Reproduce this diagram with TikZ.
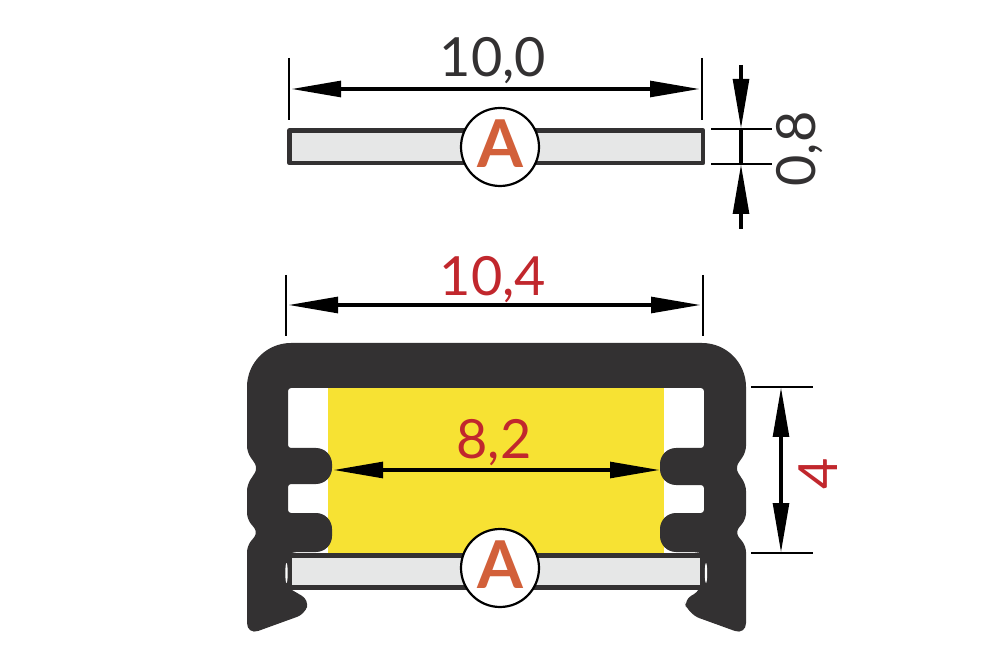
\documentclass[tikz,border=0pt]{standalone}
\usepackage{fontspec}
\setmainfont{Lato}
\usetikzlibrary{arrows.meta}
\definecolor{prof}{HTML}{333132}
\definecolor{ledy}{HTML}{F7E233}
\definecolor{lens}{HTML}{E6E7E7}
\definecolor{dimred}{HTML}{C1272D}
\definecolor{letter}{HTML}{D2603A}
\tikzset{
  dimtip/.tip={Triangle[length=25pt,width=7.8pt]},
  dimline/.style={line width=2pt,black,{dimtip}-{dimtip}},
  oneline/.style={line width=2pt,black},
  extline/.style={line width=1.3pt,black},
  dimlabel/.style={font=\fontsize{27}{30}\selectfont,inner sep=0pt,anchor=center},
  badge/.style={circle,draw=black,line width=1.1pt,fill=white,minimum size=39pt,inner sep=0pt,text=letter,font=\fontsize{33}{35}\selectfont\bfseries},
}
\begin{document}
\begin{tikzpicture}[x=0.5pt,y=-0.5pt]
\useasboundingbox (0,0) rectangle (1000,667);
\fill[white] (0,0) rectangle (1000,667);
% LED strip
\fill[ledy] (328,388) rectangle (664,553);
% profile
\fill[prof] (292,590)
  [rounded corners=4pt] -- (309,600) -- (305,614)
  [rounded corners=6pt] -- (247,635)
  [rounded corners=3pt] -- (247,546) -- (258,532.5) -- (247,519) -- (247,485) -- (258,468) -- (247,452)
  [rounded corners=22pt] -- (247,343) -- (746,343)
  [rounded corners=3pt] -- (746,452) -- (735,468) -- (746,485) -- (746,519) -- (735,532.5) -- (746,546)
  [rounded corners=6pt] -- (746,635) -- (688,614)
  [rounded corners=4pt] -- (684,600) -- (701,590)
  [rounded corners=0pt] -- (701,553) -- (693,552)
  [rounded corners=8pt] -- (660,552) -- (660,513)
  [rounded corners=1.5pt] -- (704,513) -- (704,485)
  [rounded corners=8pt] -- (660,485) -- (660,448)
  [rounded corners=1.5pt] -- (704,448) -- (704,388) -- (288,388) -- (288,448)
  [rounded corners=8pt] -- (332,448) -- (332,484)
  [rounded corners=1.5pt] -- (288,484) -- (288,513)
  [rounded corners=8pt] -- (332,513) -- (332,552)
  [rounded corners=0pt] -- (297,552) -- (291,553) -- cycle;
% lens in profile
\fill[prof] (288,553) rectangle (704,590);
\fill[lens] (292,558) rectangle (700,585);
\fill[white] (286.5,573) ellipse [x radius=1.2, y radius=10];
\fill[white] (706,573) ellipse [x radius=1.2, y radius=10];
% loose lens
\draw[prof,line width=2.3pt,fill=lens,line join=round] (289.5,130.5) rectangle (703,163);
% badges
\node[badge] (a1) at (500,147) {\smash{\raisebox{-10.4pt}{A}}};
\node[badge] (a2) at (500,568) {\smash{\raisebox{-10.4pt}{A}}};
% dimension 10,0
\coordinate (t1a) at (289,58); \coordinate (t1b) at (289,120);
\coordinate (t2a) at (702,58); \coordinate (t2b) at (702,120);
\coordinate (t3a) at (291,89); \coordinate (t3b) at (700,89);
\draw[extline] (t1a) -- (t1b);
\draw[extline] (t2a) -- (t2b);
\draw[dimline] (t3a) -- (t3b);
\node[dimlabel,text=prof] (l100) at (493,60.5) {10,0};
% dimension 0,8
\coordinate (e1a) at (711,129); \coordinate (e1b) at (772,129);
\coordinate (e2a) at (711,164); \coordinate (e2b) at (772,164);
\coordinate (v1) at (741,65); \coordinate (v2) at (741,129);
\coordinate (v3) at (741,229); \coordinate (v4) at (741,164);
\draw[extline] (e1a) -- (e1b);
\draw[extline] (e2a) -- (e2b);
\draw[oneline,-{dimtip}] (v1) -- (v2);
\draw[oneline,-{dimtip}] (v3) -- (v4);
\draw[oneline] (v2) -- (v4);
\node[dimlabel,text=prof,rotate=90] (l08) at (800,149) {0,8};
% dimension 10,4
\coordinate (m1a) at (286,275); \coordinate (m1b) at (286,336);
\coordinate (m2a) at (703,275); \coordinate (m2b) at (703,336);
\coordinate (m3a) at (288,305); \coordinate (m3b) at (701,305);
\draw[extline] (m1a) -- (m1b);
\draw[extline] (m2a) -- (m2b);
\draw[dimline] (m3a) -- (m3b);
\node[dimlabel,text=dimred] (l104) at (493,279.5) {10,4};
% dimension 8,2
\coordinate (w1) at (333,470); \coordinate (w2) at (660,470);
\draw[dimline] (w1) -- (w2);
\node[dimlabel,text=dimred] (l82) at (494,443) {8,2};
% dimension 4
\coordinate (h1a) at (751,387); \coordinate (h1b) at (813,387);
\coordinate (h2a) at (751,553); \coordinate (h2b) at (813,553);
\coordinate (h3a) at (781,387); \coordinate (h3b) at (781,553);
\draw[extline] (h1a) -- (h1b);
\draw[extline] (h2a) -- (h2b);
\draw[dimline] (h3a) -- (h3b);
\node[dimlabel,text=dimred,rotate=90] (l4) at (818,474) {4};
\end{tikzpicture}
\end{document}
